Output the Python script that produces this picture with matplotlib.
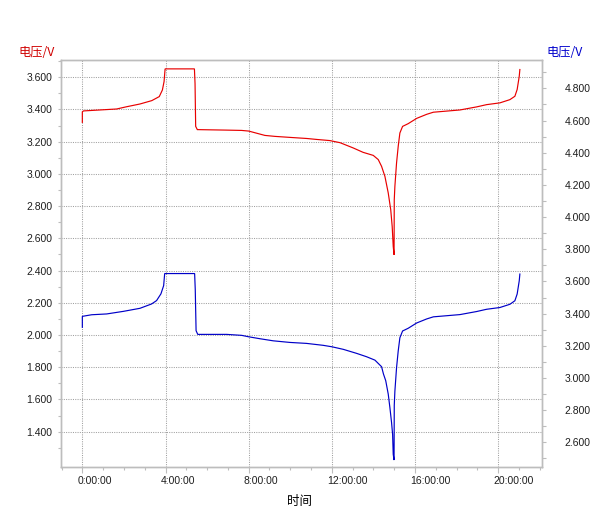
import matplotlib
matplotlib.use('Agg')
import matplotlib.pyplot as plt
import matplotlib.transforms as mtrans
from matplotlib.ticker import FixedLocator, MultipleLocator

plt.rcParams['font.family'] = ['Liberation Sans', 'DejaVu Sans']

# ---- data (time in hours, voltage in V) ----
red_t = [0.0, 0.0, 0.05, 0.85, 1.65, 2.13, 2.77, 3.34, 3.70, 3.85, 3.93, 3.98,
         5.39, 5.42, 5.45, 5.53, 6.90, 7.66, 8.00, 8.46, 8.78, 9.26, 10.07, 10.79,
         11.27, 11.90, 12.39, 13.03, 13.50, 13.99, 14.23, 14.39, 14.55, 14.71,
         14.83, 14.90, 14.95, 14.99, 15.00, 15.03, 15.11, 15.19, 15.27, 15.40,
         15.67, 16.08, 16.56, 16.88, 17.52, 18.16, 18.96, 19.44, 20.08, 20.56,
         20.80, 20.91, 21.01, 21.04]
red_v = [3.320, 3.385, 3.391, 3.397, 3.403, 3.417, 3.434, 3.455, 3.480, 3.521,
         3.573, 3.652, 3.652, 3.560, 3.295, 3.275, 3.272, 3.270, 3.266, 3.250,
         3.239, 3.233, 3.226, 3.220, 3.214, 3.207, 3.194, 3.161, 3.134, 3.115,
         3.089, 3.047, 2.985, 2.882, 2.778, 2.674, 2.550, 2.498, 2.840, 2.923,
         3.068, 3.171, 3.254, 3.295, 3.312, 3.345, 3.370, 3.383, 3.390, 3.397,
         3.416, 3.430, 3.441, 3.461, 3.482, 3.524, 3.606, 3.648]

blue_t = [0.0, 0.0, 0.45, 1.17, 1.97, 2.77, 3.33, 3.57, 3.78, 3.91, 3.96,
          5.40, 5.43, 5.47, 5.55, 6.94, 7.66, 8.00, 8.54, 9.18, 9.98, 10.78,
          11.58, 12.00, 12.55, 13.19, 13.67, 14.07, 14.39, 14.48, 14.59, 14.71,
          14.79, 14.87, 14.92, 14.95, 14.99, 15.00, 15.03, 15.11, 15.19, 15.27,
          15.40, 15.67, 16.08, 16.56, 16.88, 17.52, 18.16, 18.96, 19.44, 20.08,
          20.56, 20.80, 20.91, 21.01, 21.04]
blue_v = [3.315, 3.383, 3.393, 3.398, 3.414, 3.433, 3.460, 3.481, 3.523, 3.574,
          3.649, 3.649, 3.550, 3.294, 3.271, 3.271, 3.265, 3.256, 3.244, 3.231,
          3.221, 3.215, 3.203, 3.194, 3.178, 3.153, 3.132, 3.111, 3.070, 3.025,
          2.983, 2.900, 2.816, 2.723, 2.650, 2.526, 2.490, 2.830, 2.918, 3.064,
          3.168, 3.250, 3.292, 3.309, 3.342, 3.367, 3.380, 3.387, 3.394, 3.413,
          3.427, 3.438, 3.458, 3.480, 3.522, 3.604, 3.646]

x_ticks = [0, 4, 8, 12, 16, 20]
x_labels = ['0:00:00', '4:00:00', '8:00:00', '12:00:00', '16:00:00', '20:00:00']
left_ticks = [1.4, 1.6, 1.8, 2.0, 2.2, 2.4, 2.6, 2.8, 3.0, 3.2, 3.4, 3.6]
left_labels = ['%.3f' % v for v in left_ticks]
right_ticks = [2.6, 2.8, 3.0, 3.2, 3.4, 3.6, 3.8, 4.0, 4.2, 4.4, 4.6, 4.8]
right_labels = ['%.3f' % v for v in right_ticks]
left_minor = [1.3, 1.5, 1.7, 1.9, 2.1, 2.3, 2.5, 2.7, 2.9, 3.1, 3.3, 3.5, 3.7]
right_minor = [2.5, 2.7, 2.9, 3.1, 3.3, 3.5, 3.7, 3.9, 4.1, 4.3, 4.5, 4.7, 4.9]

W, H = 602, 518
spine_c = '#bdbdbd'
grid_c = '#a0a0a0'
txt_c = '#1e1e1e'
red_c = '#e80000'
blue_c = '#0000c8'

fig = plt.figure(figsize=(W / 100, H / 100), dpi=100)
ax = fig.add_axes([60.5 / W, 1 - 467.3 / H, (541.7 - 60.5) / W, (467.3 - 60.5) / H])
ax2 = ax.twinx()

ax.plot(red_t, red_v, color=red_c, lw=0.85, solid_joinstyle='miter')
ax2.plot(blue_t, blue_v, color=blue_c, lw=0.85, solid_joinstyle='miter')

ax.set_xlim(-1.05, 22.09)
ax.set_ylim(1.179, 3.704)
ax2.set_ylim(2.445, 4.973)

for a in (ax, ax2):
    for s in a.spines.values():
        s.set_color(spine_c)
        s.set_linewidth(1.0)

# x axis
ax.xaxis.set_major_locator(FixedLocator(x_ticks))
ax.set_xticklabels(x_labels)
ax.xaxis.set_minor_locator(MultipleLocator(1))
ax.tick_params(axis='x', which='major', direction='out', length=4.3, width=0.8,
               color=spine_c, labelsize=7.5, labelcolor=txt_c, pad=2.2)
ax.tick_params(axis='x', which='minor', direction='out', length=2.4, width=0.8,
               color=spine_c)

# left y
ax.yaxis.set_major_locator(FixedLocator(left_ticks))
ax.set_yticklabels(left_labels)
ax.yaxis.set_minor_locator(FixedLocator(left_minor))
ax.tick_params(axis='y', which='major', direction='out', length=2.2, width=0.8,
               color=spine_c, labelsize=7.5, labelcolor=txt_c, pad=3.5)
ax.tick_params(axis='y', which='minor', direction='out', length=2.2, width=0.8,
               color=spine_c)

# right y
ax2.yaxis.set_major_locator(FixedLocator(right_ticks))
ax2.set_yticklabels(right_labels)
ax2.yaxis.set_minor_locator(FixedLocator(right_minor))
ax2.tick_params(axis='y', which='major', direction='out', length=2.9, width=0.8,
                color=spine_c, labelsize=7.5, labelcolor=txt_c, pad=13.4)
ax2.tick_params(axis='y', which='minor', direction='out', length=2.9, width=0.8,
                color=spine_c)

ax.grid(True, which='major', color=grid_c, linestyle=(0, (1, 1.2)), linewidth=0.75)
ax.set_axisbelow(True)

# shift x tick labels: left edge slightly left of tick
offset = mtrans.ScaledTranslation(-5 / 100, 0, fig.dpi_scale_trans)
for lab in ax.get_xticklabels():
    lab.set_horizontalalignment('left')
    lab.set_transform(lab.get_transform() + offset)

cjk = ['Noto Sans CJK SC', 'DejaVu Sans']
fig.text(18 / W, 1 - 52.7 / H, '电压/V', color='#d00000', fontsize=8.8,
         family=cjk, ha='left', va='center')
fig.text(546.7 / W, 1 - 52.7 / H, '电压/V', color='#0000cc', fontsize=8.8,
         family=cjk, ha='left', va='center')
fig.text(300 / W, 1 - 501 / H, '时间', color='#000000', fontsize=9,
         family=cjk, ha='center', va='center')

fig.savefig('out.png', dpi=100)
